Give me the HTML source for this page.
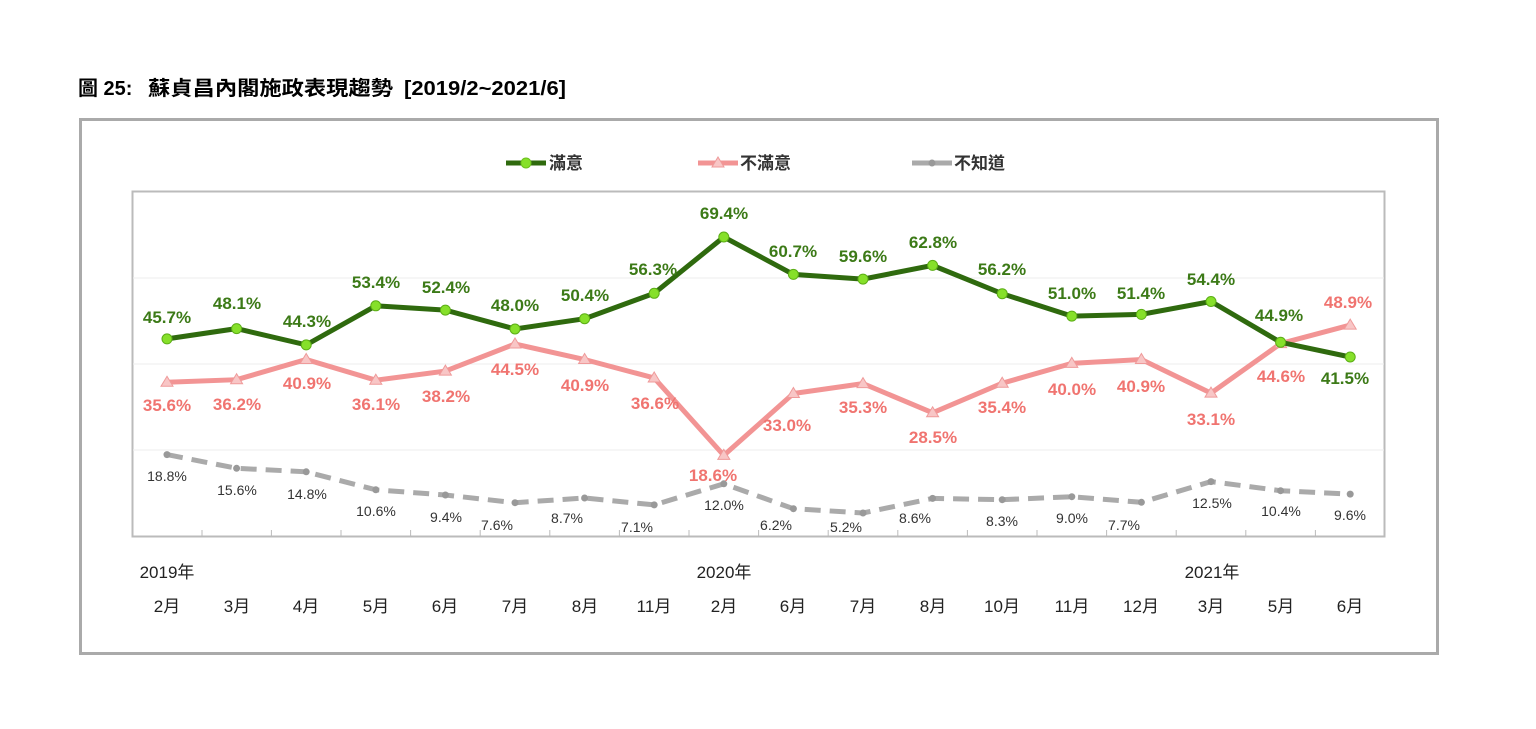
<!DOCTYPE html>
<html><head><meta charset="utf-8">
<style>
body{margin:0;background:#fff;width:1536px;height:729px;overflow:hidden;}
svg{display:block;font-family:"Liberation Sans","Noto Sans CJK TC",sans-serif;}
.g{fill:#3c7a17;font-weight:bold;font-size:17px;text-anchor:middle}
.r{fill:#f07470;font-weight:bold;font-size:17px;text-anchor:middle}
.k{fill:#333;font-size:14px;text-anchor:middle}
.ax{fill:#222;font-size:17px;text-anchor:middle}
</style></head><body>
<svg width="1536" height="729" viewBox="0 0 1536 729">
<g font-size="20" font-weight="bold" fill="#000">
<text x="78" y="95">圖 25:</text>
<text x="148" y="95" textLength="245" lengthAdjust="spacingAndGlyphs">蘇貞昌內閣施政表現趨勢</text>
<text x="404" y="95" textLength="162" lengthAdjust="spacingAndGlyphs">[2019/2~2021/6]</text>
</g>
<rect x="80.5" y="119.5" width="1357" height="534" fill="#fff" stroke="#aaa" stroke-width="3"/>
<!-- legend -->
<line x1="506" y1="163" x2="546" y2="163" stroke="#2f6a0e" stroke-width="5"/>
<circle cx="526" cy="163" r="5" fill="#86e02a" stroke="#6cc01e"/>
<text x="549" y="169" font-size="17" font-weight="bold" fill="#333">滿意</text>
<line x1="698" y1="163" x2="738" y2="163" stroke="#f29494" stroke-width="5"/>
<polygon points="718,157 724,167 712,167" fill="#f8c6c6" stroke="#ef9a9a"/>
<text x="740" y="169" font-size="17" font-weight="bold" fill="#333">不滿意</text>
<line x1="912" y1="163" x2="952" y2="163" stroke="#aaa" stroke-width="5"/>
<circle cx="932" cy="163" r="3.5" fill="#999"/>
<text x="954" y="169" font-size="17" font-weight="bold" fill="#333">不知道</text>
<!-- plot -->
<rect x="132.5" y="191.5" width="1252" height="345" fill="#fff" stroke="#bbb" stroke-width="2"/>
<g stroke="#eee" stroke-width="1">
<line x1="133" y1="278" x2="1384" y2="278"/><line x1="133" y1="364" x2="1384" y2="364"/><line x1="133" y1="450" x2="1384" y2="450"/>
</g>
<g stroke="#bbb" stroke-width="1">
<line x1="202" y1="530" x2="202" y2="537"/><line x1="271.4" y1="530" x2="271.4" y2="537"/><line x1="341" y1="530" x2="341" y2="537"/><line x1="410.6" y1="530" x2="410.6" y2="537"/><line x1="480.2" y1="530" x2="480.2" y2="537"/><line x1="549.8" y1="530" x2="549.8" y2="537"/><line x1="619.4" y1="530" x2="619.4" y2="537"/><line x1="689" y1="530" x2="689" y2="537"/><line x1="758.6" y1="530" x2="758.6" y2="537"/><line x1="828.2" y1="530" x2="828.2" y2="537"/><line x1="897.8" y1="530" x2="897.8" y2="537"/><line x1="967.4" y1="530" x2="967.4" y2="537"/><line x1="1037" y1="530" x2="1037" y2="537"/><line x1="1106.6" y1="530" x2="1106.6" y2="537"/><line x1="1176.2" y1="530" x2="1176.2" y2="537"/><line x1="1245.8" y1="530" x2="1245.8" y2="537"/><line x1="1315.4" y1="530" x2="1315.4" y2="537"/>
</g>
<!-- gray -->
<polyline fill="none" stroke="#aaa" stroke-width="5" stroke-dasharray="16,9" points="167,454.6 236.6,468.3 306.2,471.8 375.8,489.8 445.4,495 515,502.7 584.6,498 654.2,504.9 723.8,483.8 793.4,508.7 863,513 932.6,498.4 1002.2,499.7 1071.8,496.7 1141.4,502.3 1211,481.6 1280.6,490.7 1350.2,494.1"/>
<g fill="#999"><circle cx="167" cy="454.6" r="3.5"/><circle cx="236.6" cy="468.3" r="3.5"/><circle cx="306.2" cy="471.8" r="3.5"/><circle cx="375.8" cy="489.8" r="3.5"/><circle cx="445.4" cy="495" r="3.5"/><circle cx="515" cy="502.7" r="3.5"/><circle cx="584.6" cy="498" r="3.5"/><circle cx="654.2" cy="504.9" r="3.5"/><circle cx="723.8" cy="483.8" r="3.5"/><circle cx="793.4" cy="508.7" r="3.5"/><circle cx="863" cy="513" r="3.5"/><circle cx="932.6" cy="498.4" r="3.5"/><circle cx="1002.2" cy="499.7" r="3.5"/><circle cx="1071.8" cy="496.7" r="3.5"/><circle cx="1141.4" cy="502.3" r="3.5"/><circle cx="1211" cy="481.6" r="3.5"/><circle cx="1280.6" cy="490.7" r="3.5"/><circle cx="1350.2" cy="494.1" r="3.5"/></g>
<!-- red -->
<polyline fill="none" stroke="#f29494" stroke-width="5" points="167,382.3 236.6,379.7 306.2,359.5 375.8,380.2 445.4,371.1 515,344 584.6,359.5 654.2,378 723.8,455.4 793.4,393.5 863,383.6 932.6,412.8 1002.2,383.2 1071.8,363.4 1141.4,359.5 1211,393.1 1280.6,343.6 1350.2,325.1"/>
<g fill="#f8c6c6" stroke="#ef9a9a" stroke-width="1">
<polygon points="167,376.3 173,386.3 161,386.3"/><polygon points="236.6,373.7 242.6,383.7 230.6,383.7"/><polygon points="306.2,353.5 312.2,363.5 300.2,363.5"/><polygon points="375.8,374.2 381.8,384.2 369.8,384.2"/><polygon points="445.4,365.1 451.4,375.1 439.4,375.1"/><polygon points="515,338 521,348 509,348"/><polygon points="584.6,353.5 590.6,363.5 578.6,363.5"/><polygon points="654.2,372 660.2,382 648.2,382"/><polygon points="723.8,449.4 729.8,459.4 717.8,459.4"/><polygon points="793.4,387.5 799.4,397.5 787.4,397.5"/><polygon points="863,377.6 869,387.6 857,387.6"/><polygon points="932.6,406.8 938.6,416.8 926.6,416.8"/><polygon points="1002.2,377.2 1008.2,387.2 996.2,387.2"/><polygon points="1071.8,357.4 1077.8,367.4 1065.8,367.4"/><polygon points="1141.4,353.5 1147.4,363.5 1135.4,363.5"/><polygon points="1211,387.1 1217,397.1 1205,397.1"/><polygon points="1280.6,337.6 1286.6,347.6 1274.6,347.6"/><polygon points="1350.2,319.1 1356.2,329.1 1344.2,329.1"/>
</g>
<!-- green -->
<polyline fill="none" stroke="#2f6a0e" stroke-width="5" points="167,338.9 236.6,328.6 306.2,344.9 375.8,305.8 445.4,310.1 515,329 584.6,318.7 654.2,293.3 723.8,237 793.4,274.4 863,279.1 932.6,265.4 1002.2,293.7 1071.8,316.1 1141.4,314.4 1211,301.5 1280.6,342.3 1350.2,357"/>
<g fill="#86e02a" stroke="#5cae16" stroke-width="1">
<circle cx="167" cy="338.9" r="5"/><circle cx="236.6" cy="328.6" r="5"/><circle cx="306.2" cy="344.9" r="5"/><circle cx="375.8" cy="305.8" r="5"/><circle cx="445.4" cy="310.1" r="5"/><circle cx="515" cy="329" r="5"/><circle cx="584.6" cy="318.7" r="5"/><circle cx="654.2" cy="293.3" r="5"/><circle cx="723.8" cy="237" r="5"/><circle cx="793.4" cy="274.4" r="5"/><circle cx="863" cy="279.1" r="5"/><circle cx="932.6" cy="265.4" r="5"/><circle cx="1002.2" cy="293.7" r="5"/><circle cx="1071.8" cy="316.1" r="5"/><circle cx="1141.4" cy="314.4" r="5"/><circle cx="1211" cy="301.5" r="5"/><circle cx="1280.6" cy="342.3" r="5"/><circle cx="1350.2" cy="357" r="5"/>
</g>
<!-- green labels -->
<text class="g" x="167" y="323">45.7%</text><text class="g" x="237" y="309">48.1%</text><text class="g" x="307" y="327">44.3%</text><text class="g" x="376" y="288">53.4%</text><text class="g" x="446" y="293">52.4%</text><text class="g" x="515" y="311">48.0%</text><text class="g" x="585" y="301">50.4%</text><text class="g" x="653" y="275">56.3%</text><text class="g" x="724" y="219">69.4%</text><text class="g" x="793" y="257">60.7%</text><text class="g" x="863" y="262">59.6%</text><text class="g" x="933" y="248">62.8%</text><text class="g" x="1002" y="275">56.2%</text><text class="g" x="1072" y="299">51.0%</text><text class="g" x="1141" y="299">51.4%</text><text class="g" x="1211" y="285">54.4%</text><text class="g" x="1279" y="321">44.9%</text><text class="g" x="1345" y="384">41.5%</text>
<!-- red labels -->
<text class="r" x="167" y="411">35.6%</text><text class="r" x="237" y="410">36.2%</text><text class="r" x="307" y="389">40.9%</text><text class="r" x="376" y="410">36.1%</text><text class="r" x="446" y="402">38.2%</text><text class="r" x="515" y="375">44.5%</text><text class="r" x="585" y="391">40.9%</text><text class="r" x="655" y="409">36.6%</text><text class="r" x="713" y="481">18.6%</text><text class="r" x="787" y="431">33.0%</text><text class="r" x="863" y="413">35.3%</text><text class="r" x="933" y="443">28.5%</text><text class="r" x="1002" y="413">35.4%</text><text class="r" x="1072" y="395">40.0%</text><text class="r" x="1141" y="392">40.9%</text><text class="r" x="1211" y="425">33.1%</text><text class="r" x="1281" y="382">44.6%</text><text class="r" x="1348" y="308">48.9%</text>
<!-- gray labels -->
<text class="k" x="167" y="481">18.8%</text><text class="k" x="237" y="495">15.6%</text><text class="k" x="307" y="499">14.8%</text><text class="k" x="376" y="516">10.6%</text><text class="k" x="446" y="522">9.4%</text><text class="k" x="497" y="530">7.6%</text><text class="k" x="567" y="523">8.7%</text><text class="k" x="637" y="532">7.1%</text><text class="k" x="724" y="510">12.0%</text><text class="k" x="776" y="530">6.2%</text><text class="k" x="846" y="532">5.2%</text><text class="k" x="915" y="523">8.6%</text><text class="k" x="1002" y="526">8.3%</text><text class="k" x="1072" y="523">9.0%</text><text class="k" x="1124" y="530">7.7%</text><text class="k" x="1212" y="508">12.5%</text><text class="k" x="1281" y="516">10.4%</text><text class="k" x="1350" y="520">9.6%</text>
<!-- axis labels -->
<text class="ax" x="167" y="578">2019年</text><text class="ax" x="724" y="578">2020年</text><text class="ax" x="1212" y="578">2021年</text>
<text class="ax" x="167" y="612">2月</text><text class="ax" x="237" y="612">3月</text><text class="ax" x="306" y="612">4月</text><text class="ax" x="376" y="612">5月</text><text class="ax" x="445" y="612">6月</text><text class="ax" x="515" y="612">7月</text><text class="ax" x="585" y="612">8月</text><text class="ax" x="654" y="612">11月</text><text class="ax" x="724" y="612">2月</text><text class="ax" x="793" y="612">6月</text><text class="ax" x="863" y="612">7月</text><text class="ax" x="933" y="612">8月</text><text class="ax" x="1002" y="612">10月</text><text class="ax" x="1072" y="612">11月</text><text class="ax" x="1141" y="612">12月</text><text class="ax" x="1211" y="612">3月</text><text class="ax" x="1281" y="612">5月</text><text class="ax" x="1350" y="612">6月</text>
</svg>
</body></html>
